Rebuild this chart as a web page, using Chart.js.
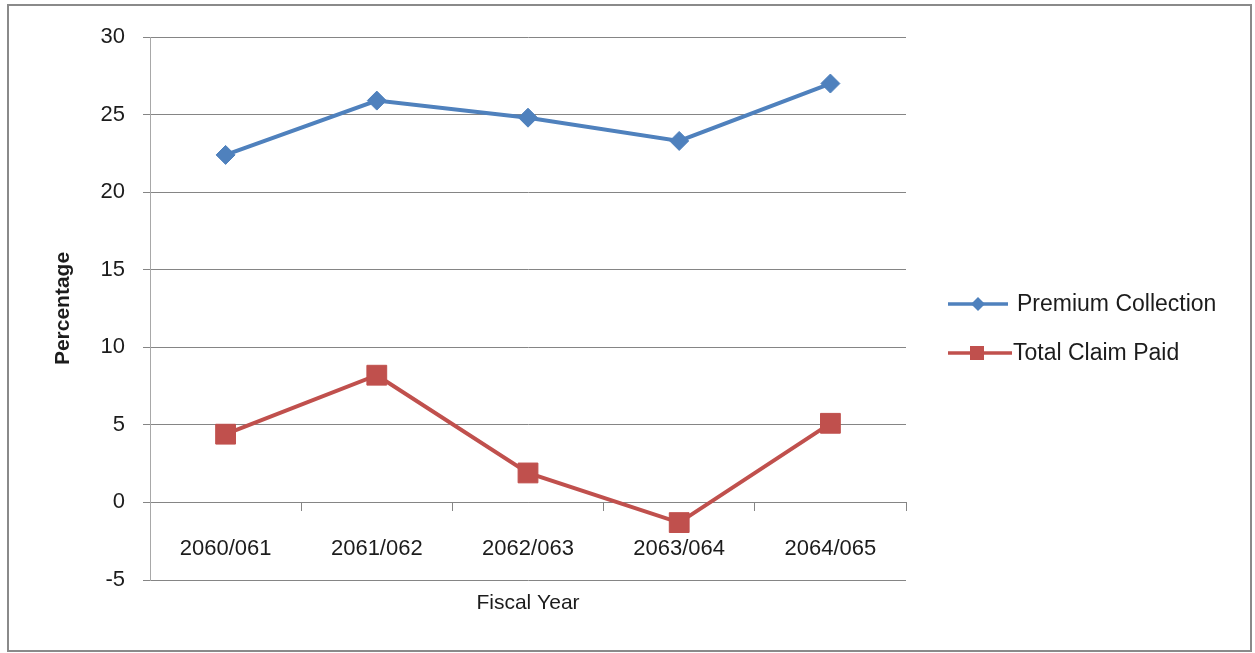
<!DOCTYPE html>
<html>
<head>
<meta charset="utf-8">
<title>Premium Collection and Total Claim Paid</title>
<script src="https://cdn.jsdelivr.net/npm/chart.js@4.4.0/dist/chart.umd.min.js"></script>
<style>
  html, body { margin: 0; padding: 0; background: #fff; }
  #wrap { position: relative; width: 1255px; height: 653px; }
  #frame {
    position: absolute; left: 7px; top: 4px; width: 1245px; height: 648px;
    border: 2px solid #8a8a8a; box-sizing: border-box; pointer-events: none;
  }
</style>
</head>
<body>
<div id="wrap">
  <canvas id="growthChart" width="1255" height="653"></canvas>
  <div id="frame"></div>
</div>
<script>
// ----------------------------
// Data
// ----------------------------
const fiscalYears = ["2060/061", "2061/062", "2062/063", "2063/064", "2064/065"];
const premiumCollection = [22.4, 25.9, 24.8, 23.3, 27.0];
const totalClaimPaid = [4.4, 8.2, 1.9, -1.3, 5.1];
const yTicks = [-5, 0, 5, 10, 15, 20, 25, 30];

const GRID = '#858585';
const TEXT = '#1c1c1c';
const FONT = "'Liberation Sans', Arial, sans-serif";

// ----------------------------
// Legend drawn to the right of the plot (line + marker, like the series)
// ----------------------------
const sideLegend = {
  id: 'sideLegend',
  afterDraw(chart) {
    const ctx = chart.ctx;
    const rows = [
      { y: 304, x1: 948, x2: 1008, mx: 978, tx: 1017 },
      { y: 353, x1: 948, x2: 1012, mx: 977, tx: 1013 }
    ];
    ctx.save();
    chart.data.datasets.forEach((ds, i) => {
      const r = rows[i];
      ctx.strokeStyle = ds.borderColor;
      ctx.fillStyle = ds.borderColor;
      ctx.lineWidth = 3.5;
      ctx.beginPath();
      ctx.moveTo(r.x1, r.y);
      ctx.lineTo(r.x2, r.y);
      ctx.stroke();

      ctx.beginPath();
      if (ds.pointStyle === 'rectRot') {
        const s = 7;
        ctx.moveTo(r.mx, r.y - s);
        ctx.lineTo(r.mx + s, r.y);
        ctx.lineTo(r.mx, r.y + s);
        ctx.lineTo(r.mx - s, r.y);
        ctx.closePath();
      } else {
        const s = 7;
        ctx.rect(r.mx - s, r.y - s, s * 2, s * 2);
      }
      ctx.fill();

      ctx.fillStyle = TEXT;
      ctx.font = `23px ${FONT}`;
      ctx.textAlign = 'left';
      ctx.textBaseline = 'middle';
      ctx.fillText(ds.label, r.tx, r.y + 1);
    });
    ctx.restore();
  }
};

// ----------------------------
// Chart
// ----------------------------
const ctx = document.getElementById("growthChart").getContext("2d");

new Chart(ctx, {
  type: 'line',
  data: {
    labels: fiscalYears,
    datasets: [
      {
        label: 'Premium Collection',
        data: premiumCollection,
        borderColor: '#4F81BD',
        backgroundColor: '#4F81BD',
        borderWidth: 4,
        pointStyle: 'rectRot',
        pointRadius: 9.5,
        pointBorderWidth: 1,
        tension: 0
      },
      {
        label: 'Total Claim Paid',
        data: totalClaimPaid,
        borderColor: '#C0504D',
        backgroundColor: '#C0504D',
        borderWidth: 4,
        pointStyle: 'rect',
        pointRadius: 14,
        pointBorderWidth: 1,
        tension: 0
      }
    ]
  },
  options: {
    responsive: false,
    animation: false,
    layout: { padding: { left: 0, top: 37, right: 349, bottom: 0 } },
    plugins: {
      legend: { display: false },
      tooltip: { enabled: false }
    },
    scales: {
      x: {
        type: 'category',
        position: { y: 0 },
        offset: true,
        afterFit(scale) { scale.height = 0; },
        grid: {
          display: true,
          drawOnChartArea: false,
          drawTicks: true,
          tickLength: 8,
          offset: true,
          color: GRID
        },
        border: { display: true, color: GRID, width: 1 },
        ticks: {
          maxRotation: 0,
          autoSkip: false,
          padding: 25,
          color: TEXT,
          font: { family: FONT, size: 22 }
        }
      },
      x2: {
        type: 'category',
        position: 'bottom',
        afterFit(scale) { scale.height = 73; },
        grid: { display: false },
        border: { display: false },
        ticks: { display: false },
        title: {
          display: true,
          text: 'Fiscal Year',
          color: TEXT,
          font: { family: FONT, size: 21 },
          padding: { top: 0, bottom: 37 }
        }
      },
      y: {
        min: yTicks[0],
        max: yTicks[yTicks.length - 1],
        afterFit(scale) { scale.width = 150; },
        afterBuildTicks(scale) { scale.ticks = yTicks.map(v => ({ value: v })); },
        grid: {
          color: GRID,
          lineWidth: 1,
          drawTicks: true,
          tickLength: 7
        },
        border: { display: true, color: '#a8a8a8', width: 1 },
        ticks: {
          padding: 18,
          color: TEXT,
          font: { family: FONT, size: 22 }
        },
        title: {
          display: true,
          text: 'Percentage',
          color: TEXT,
          font: { family: FONT, size: 21, weight: 'bold' },
          padding: { top: 51, bottom: 0 }
        }
      }
    }
  },
  plugins: [sideLegend]
});
</script>
</body>
</html>
